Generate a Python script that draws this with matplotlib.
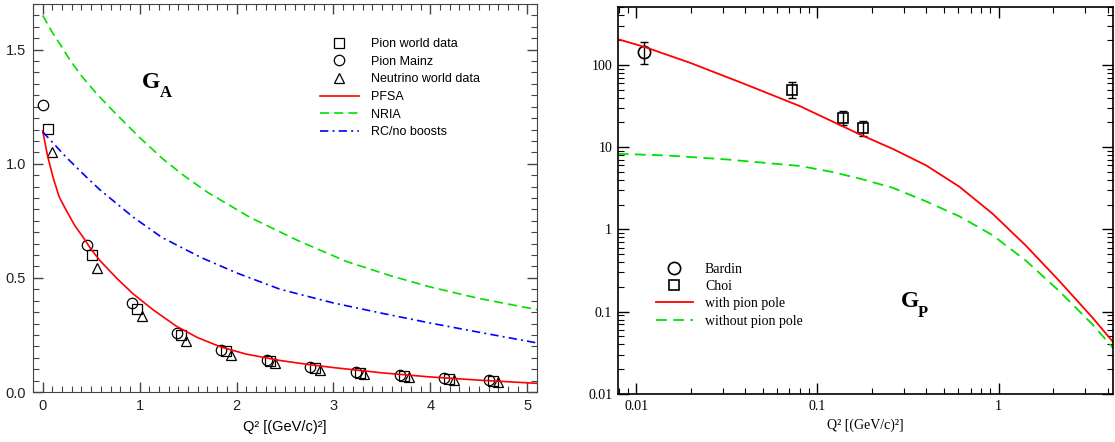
import matplotlib
matplotlib.use("Agg")
import matplotlib.pyplot as plt
from matplotlib.ticker import MultipleLocator, FixedLocator, FixedFormatter, LogLocator, NullFormatter

# ---- left panel: axial form factor G_A ----
pion_world_q = [0.05, 0.51, 0.97, 1.43, 1.89, 2.35, 2.81, 3.27, 3.73, 4.19, 4.65]
pion_world_ga = [1.151, 0.601, 0.365, 0.249, 0.18, 0.138, 0.106, 0.085, 0.07, 0.058, 0.05]
pion_mainz_q = [0.0, 0.46, 0.92, 1.385, 1.84, 2.31, 2.76, 3.23, 3.69, 4.14, 4.6]
pion_mainz_ga = [1.258, 0.642, 0.39, 0.26, 0.186, 0.14, 0.11, 0.089, 0.073, 0.06, 0.052]
neutrino_q = [0.1, 0.56, 1.02, 1.48, 1.94, 2.4, 2.86, 3.32, 3.78, 4.24, 4.7]
neutrino_ga = [1.05, 0.543, 0.332, 0.224, 0.163, 0.125, 0.096, 0.078, 0.065, 0.053, 0.046]

pfsa_q = [0, 0.05, 0.107, 0.17, 0.244, 0.33, 0.417, 0.5, 0.59, 0.76, 0.93, 1.14, 1.38,
          1.6, 1.84, 2.1, 2.45, 2.75, 3.0, 3.5, 4.0, 4.5, 5.1]
pfsa_ga = [1.144, 1.035, 0.94, 0.855, 0.795, 0.73, 0.678, 0.625, 0.576, 0.5, 0.431, 0.36, 0.288,
           0.238, 0.197, 0.166, 0.138, 0.12, 0.107, 0.084, 0.066, 0.052, 0.038]
nria_q = [0, 0.1, 0.2, 0.28, 0.4, 0.55, 0.727, 1.0, 1.243, 1.45, 1.7, 2.14, 2.63, 3.14,
          3.6, 4.0, 4.5, 5.1]
nria_ga = [1.65, 1.575, 1.51, 1.455, 1.385, 1.31, 1.231, 1.115, 1.02, 0.95, 0.875, 0.765, 0.664,
           0.571, 0.508, 0.46, 0.41, 0.361]
rc_q = [0, 0.244, 0.455, 0.59, 0.934, 1.227, 1.63, 2.0, 2.45, 3.0, 3.5, 4.0, 4.5, 5.1]
rc_ga = [1.14, 1.028, 0.94, 0.886, 0.766, 0.678, 0.59, 0.522, 0.45, 0.39, 0.345, 0.302, 0.262, 0.215]

# ---- right panel: induced pseudoscalar form factor G_P ----
bardin_q = [0.0111]
bardin_gp = [145]
bardin_err = [42]
choi_q = [0.0724, 0.138, 0.178]
choi_gp = [50, 22.8, 17.3]
choi_err = [11, 4.3, 3.5]

pole_q = [0.0079, 0.0111, 0.02, 0.04, 0.08, 0.171, 0.261, 0.398, 0.608, 0.927, 1.41,
          2.15, 3.28, 4.4]
pole_gp = [205, 165, 105, 58, 31.5, 14.3, 9.5, 6.0, 3.3, 1.55, 0.64, 0.24, 0.086, 0.04]
nopole_q = [0.0079, 0.015, 0.0316, 0.08, 0.12, 0.171, 0.261, 0.398, 0.608, 0.927, 1.41,
            2.15, 3.28, 4.4]
nopole_gp = [8.3, 7.9, 7.08, 5.9, 5.0, 4.15, 3.2, 2.19, 1.44, 0.85, 0.42, 0.18, 0.071, 0.034]

SANS = "Liberation Sans"
SERIF = "Liberation Serif"

fig = plt.figure(figsize=(11.15, 4.42), dpi=100)

# left panel
ax1 = fig.add_axes([0.0296, 0.1131, 0.452, 0.8779])
mk = dict(linestyle="none", markerfacecolor="none", markeredgecolor="black",
          markersize=7.5, markeredgewidth=0.9)
ax1.plot(pion_world_q, pion_world_ga, marker="s", label="Pion world data", **mk)
ax1.plot(pion_mainz_q, pion_mainz_ga, marker="o", label="Pion Mainz", **mk)
ax1.plot(neutrino_q, neutrino_ga, marker="^", label="Neutrino world data", **mk)
ax1.plot(pfsa_q, pfsa_ga, color="red", lw=1.2, label="PFSA")
ax1.plot(nria_q, nria_ga, color="#00e000", lw=1.2, dashes=(5.5, 3), label="NRIA")
ax1.plot(rc_q, rc_ga, color="blue", lw=1.2, dashes=(5, 2.5, 1.2, 2.5), label="RC/no boosts")

ax1.set_xlim(-0.1, 5.1)
ax1.set_ylim(0, 1.7)
ax1.xaxis.set_major_locator(MultipleLocator(1))
ax1.xaxis.set_minor_locator(MultipleLocator(0.1))
ax1.yaxis.set_major_locator(FixedLocator([0, 0.5, 1.0, 1.5]))
ax1.yaxis.set_major_formatter(FixedFormatter(["0.0", "0.5", "1.0", "1.5"]))
ax1.yaxis.set_minor_locator(MultipleLocator(0.05))
ax1.tick_params(which="both", direction="in", top=True, right=True, color="#444444")
ax1.tick_params(which="major", length=7.5, width=1, labelsize=10.5, pad=5)
ax1.tick_params(which="minor", length=4, width=0.8)
for s in ax1.spines.values():
    s.set_color("#444444")
for lab in ax1.get_xticklabels() + ax1.get_yticklabels():
    lab.set_family(SANS)
    lab.set_color("#222222")
ax1.set_xlabel("Q² [(GeV/c)²]", family=SANS, fontsize=10.5, labelpad=5)

ax1.legend(loc="upper left", bbox_to_anchor=(0.569, 0.912), frameon=False,
           prop={"family": SANS, "size": 9}, handlelength=3.1,
           handletextpad=1.0, labelspacing=0.45, borderpad=0, borderaxespad=0)
ax1.text(0.2157, 0.783, "G", transform=ax1.transAxes, family=SERIF,
         fontweight="bold", fontsize=17, ha="left", va="baseline")
ax1.text(0.252, 0.761, "A", transform=ax1.transAxes, family=SERIF,
         fontweight="bold", fontsize=12, ha="left", va="baseline")

# right panel
ax2 = fig.add_axes([0.554, 0.1086, 0.4445, 0.8749])
ax2.set_xscale("log")
ax2.set_yscale("log")
ax2.errorbar(bardin_q, bardin_gp, yerr=bardin_err, fmt="none", ecolor="black",
             elinewidth=1, capsize=3)
ax2.errorbar(choi_q, choi_gp, yerr=choi_err, fmt="none", ecolor="black",
             elinewidth=1, capsize=3)
ax2.plot(bardin_q, bardin_gp, marker="o", linestyle="none", markerfacecolor="none",
         markeredgecolor="black", markersize=8.8, markeredgewidth=1.2, label="Bardin")
ax2.plot(choi_q, choi_gp, marker="s", linestyle="none", markerfacecolor="none",
         markeredgecolor="black", markersize=7.2, markeredgewidth=1.2, label="Choi")
ax2.plot(pole_q, pole_gp, color="red", lw=1.3, label="with pion pole")
ax2.plot(nopole_q, nopole_gp, color="#00e000", lw=1.3, dashes=(6, 3.5), label="without pion pole")

ax2.set_xlim(0.0079, 4.3)
ax2.set_ylim(0.01, 500)
ax2.xaxis.set_major_locator(FixedLocator([0.01, 0.1, 1]))
ax2.xaxis.set_major_formatter(FixedFormatter(["0.01", "0.1", "1"]))
ax2.xaxis.set_minor_locator(LogLocator(base=10, subs=range(2, 10), numticks=20))
ax2.xaxis.set_minor_formatter(NullFormatter())
ax2.yaxis.set_major_locator(FixedLocator([0.01, 0.1, 1, 10, 100]))
ax2.yaxis.set_major_formatter(FixedFormatter(["0.01", "0.1", "1", "10", "100"]))
ax2.yaxis.set_minor_locator(LogLocator(base=10, subs=range(2, 10), numticks=20))
ax2.yaxis.set_minor_formatter(NullFormatter())
ax2.tick_params(which="both", direction="in", top=True, right=True, color="black")
ax2.tick_params(which="major", length=8, width=1, labelsize=10, pad=4)
ax2.tick_params(which="minor", length=4.2, width=0.8)
for s in ax2.spines.values():
    s.set_linewidth(1.2)
for lab in ax2.get_xticklabels() + ax2.get_yticklabels():
    lab.set_family(SERIF)
ax2.set_xlabel("Q² [(GeV/c)²]", family=SERIF, fontsize=10, labelpad=4)

ax2.legend(loc="upper left", bbox_to_anchor=(0.0767, 0.3387), frameon=False,
           prop={"family": SERIF, "size": 10}, handlelength=2.7,
           handletextpad=0.85, labelspacing=0.3, borderpad=0, borderaxespad=0)
ax2.text(0.571, 0.224, "G", transform=ax2.transAxes, family=SERIF,
         fontweight="bold", fontsize=17, ha="left", va="baseline")
ax2.text(0.606, 0.2, "P", transform=ax2.transAxes, family=SERIF,
         fontweight="bold", fontsize=12, ha="left", va="baseline")

fig.savefig("out.png", dpi=100)
